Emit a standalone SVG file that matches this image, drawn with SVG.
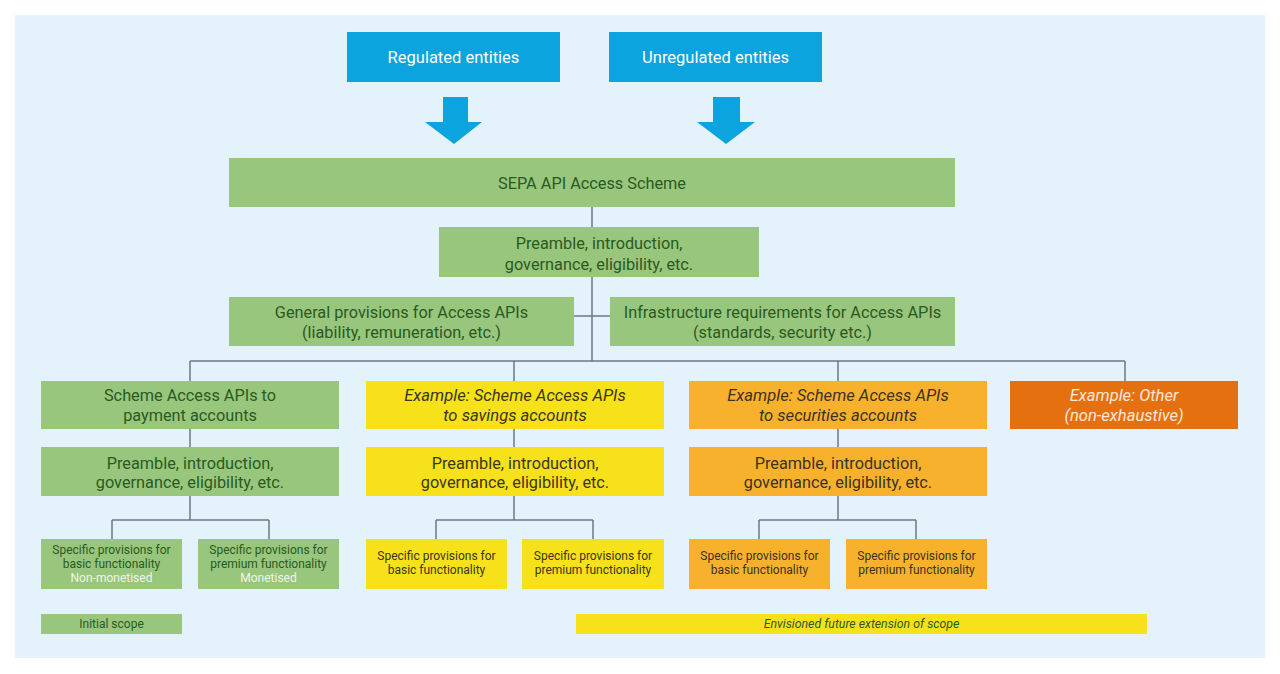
<svg xmlns="http://www.w3.org/2000/svg" width="1280" height="674" viewBox="0 0 1280 674">
<style>
text{font-family:Roboto,"Liberation Sans",sans-serif;text-anchor:middle;dominant-baseline:central}
.blue{fill:#0ba4de}.green{fill:#98c67c}.yellow{fill:#f6e11a}.orange{fill:#f8b12c}.dorange{fill:#e5700f}
.tw{fill:#ffffff;font-size:16.5px}
.tg{fill:#2a5a22}.ty{fill:#3a3618}.to{fill:#3a3320}
.l{font-size:16.3px}.m{font-size:16.3px}.s{font-size:12px}.xs{font-size:12px}
.it{font-style:italic}
.l.it{font-size:16.6px}
.xs.it{font-size:12.3px}
.conn{fill:none;stroke:#6b7a85;stroke-width:1.5}
</style>
<rect x="0" y="0" width="1280" height="674" fill="#ffffff"/>
<rect x="15" y="15" width="1250" height="643" fill="#e4f3fb"/>
<g id="connectors">
<path class="conn" d="M592 207V361M574 316H610M190 361H1125M190 361V381M514 361V381M838 361V381M1125 361V381"/>
<path class="conn" d="M190 429V447M514 429V447M838 429V447"/>
<path class="conn" d="M190 496V520M112 520H269M112 520V539M269 520V539"/>
<path class="conn" d="M514 496V520M436 520H593M436 520V539M593 520V539"/>
<path class="conn" d="M838 496V520M759 520H916M759 520V539M916 520V539"/>
<polygon class="blue" points="443,97 468,97 468,122 482,122 454,144 425,122 443,122"/>
<polygon class="blue" points="713,97 740,97 740,122 755,122 726,144 697,122 713,122"/>
</g>
<g id="regulated"><rect class="blue" x="347" y="32" width="213" height="50"/><text class="tw" x="453.5" y="57">Regulated entities</text></g>
<g id="unregulated"><rect class="blue" x="609" y="32" width="213" height="50"/><text class="tw" x="715.5" y="57">Unregulated entities</text></g>
<g id="sepa"><rect class="green" x="229" y="158" width="726" height="49"/><text class="tg l" x="592" y="183">SEPA API Access Scheme</text></g>
<g id="preamble-main"><rect class="green" x="439" y="227" width="320" height="50"/><text class="tg l" x="599" y="243">Preamble, introduction,</text><text class="tg l" x="599" y="264">governance, eligibility, etc.</text></g>
<g id="general"><rect class="green" x="229" y="297" width="345" height="49"/><text class="tg l" x="401.5" y="312">General provisions for Access APIs</text><text class="tg l" x="401.5" y="332">(liability, remuneration, etc.)</text></g>
<g id="infra"><rect class="green" x="610" y="297" width="345" height="49"/><text class="tg l" x="782.5" y="312">Infrastructure requirements for Access APIs</text><text class="tg l" x="782.5" y="332">(standards, security etc.)</text></g>
<g id="payment"><rect class="green" x="41" y="381" width="298" height="48"/><text class="tg l" x="190" y="395">Scheme Access APIs to</text><text class="tg l" x="190" y="415">payment accounts</text></g>
<g id="savings"><rect class="yellow" x="366" y="381" width="298" height="48"/><text class="ty l it" x="515" y="395">Example: Scheme Access APIs</text><text class="ty l it" x="515" y="415">to savings accounts</text></g>
<g id="securities"><rect class="orange" x="689" y="381" width="298" height="48"/><text class="to l it" x="838" y="395">Example: Scheme Access APIs</text><text class="to l it" x="838" y="415">to securities accounts</text></g>
<g id="other"><rect class="dorange" x="1010" y="381" width="228" height="48"/><text class="l it" fill="#fde9dc" x="1124" y="395">Example: Other</text><text class="l it" fill="#fde9dc" x="1124" y="415">(non-exhaustive)</text></g>
<g id="preamble-payment"><rect class="green" x="41" y="447" width="298" height="49"/><text class="tg m" x="190" y="463">Preamble, introduction,</text><text class="tg m" x="190" y="482">governance, eligibility, etc.</text></g>
<g id="preamble-savings"><rect class="yellow" x="366" y="447" width="298" height="49"/><text class="ty m" x="515" y="463">Preamble, introduction,</text><text class="ty m" x="515" y="482">governance, eligibility, etc.</text></g>
<g id="preamble-securities"><rect class="orange" x="689" y="447" width="298" height="49"/><text class="to m" x="838" y="463">Preamble, introduction,</text><text class="to m" x="838" y="482">governance, eligibility, etc.</text></g>
<g id="payment-basic"><rect class="green" x="41" y="539" width="141" height="50"/><text class="tg s" x="111.5" y="550">Specific provisions for</text><text class="tg s" x="111.5" y="564">basic functionality</text><text class="s" fill="#eef7e6" x="111.5" y="578">Non-monetised</text></g>
<g id="payment-premium"><rect class="green" x="198" y="539" width="141" height="50"/><text class="tg s" x="268.5" y="550">Specific provisions for</text><text class="tg s" x="268.5" y="564">premium functionality</text><text class="s" fill="#eef7e6" x="268.5" y="578">Monetised</text></g>
<g id="savings-basic"><rect class="yellow" x="366" y="539" width="141" height="50"/><text class="ty s" x="436.5" y="556">Specific provisions for</text><text class="ty s" x="436.5" y="570">basic functionality</text></g>
<g id="savings-premium"><rect class="yellow" x="522" y="539" width="142" height="50"/><text class="ty s" x="593" y="556">Specific provisions for</text><text class="ty s" x="593" y="570">premium functionality</text></g>
<g id="securities-basic"><rect class="orange" x="689" y="539" width="141" height="50"/><text class="to s" x="759.5" y="556">Specific provisions for</text><text class="to s" x="759.5" y="570">basic functionality</text></g>
<g id="securities-premium"><rect class="orange" x="846" y="539" width="141" height="50"/><text class="to s" x="916.5" y="556">Specific provisions for</text><text class="to s" x="916.5" y="570">premium functionality</text></g>
<g id="legend-initial"><rect class="green" x="41" y="614" width="141" height="20"/><text class="tg xs" x="111.5" y="624">Initial scope</text></g>
<g id="legend-future"><rect class="yellow" x="576" y="614" width="571" height="20"/><text class="tg xs it" x="861.5" y="624">Envisioned future extension of scope</text></g>
</svg>
